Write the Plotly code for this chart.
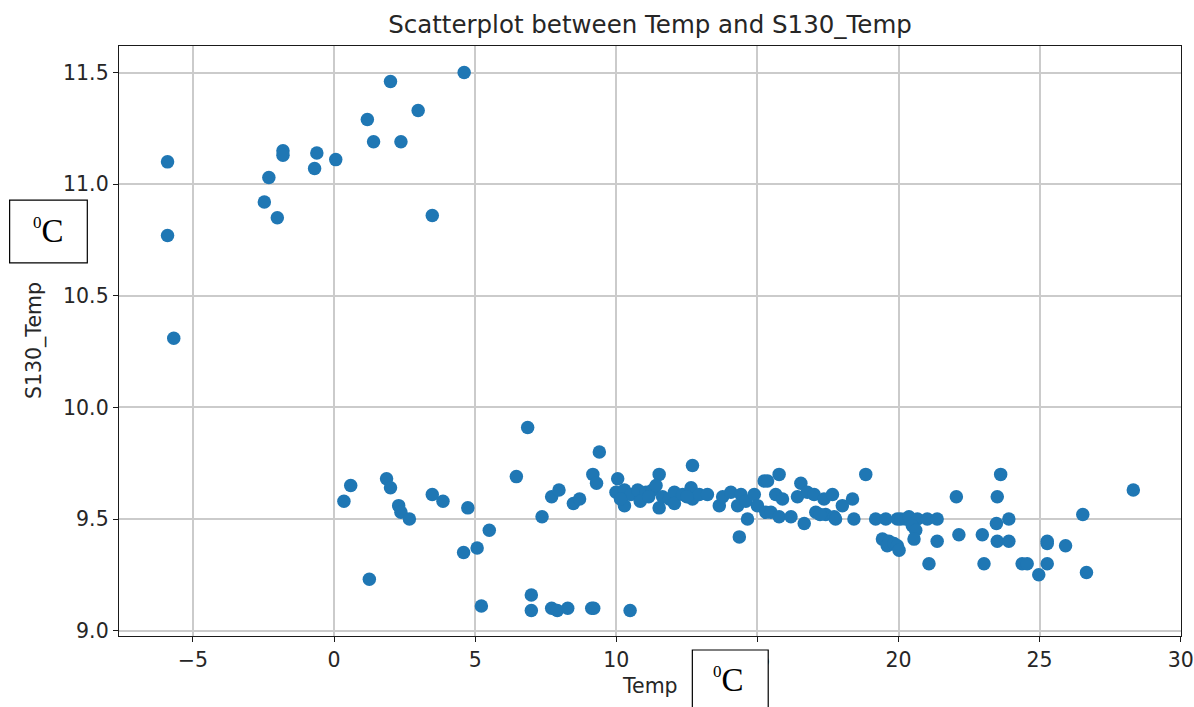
import plotly.graph_objects as go

# Outside air temperature (Temp) against sensor S130 reading (S130_Temp)
temp = [
    -5.90, -5.90, -5.68, -2.47, -2.31, -2.01, -1.81, -1.81, -0.69, -0.61,
    0.06, 1.18, 1.40, 2.00, 2.37, 2.98, 3.48, 4.61,
    0.35, 0.59, 1.25, 1.86, 2.00, 2.29, 2.37, 2.67, 3.48, 3.86,
    4.59, 4.74, 5.07, 5.22, 5.50, 6.46, 6.86, 6.99, 6.99, 7.37,
    7.71, 7.97, 7.71, 7.91, 8.28, 8.48, 8.70, 9.13, 9.20, 9.17,
    9.30, 9.40, 10.49,
    10.05, 9.99, 10.29, 10.29, 10.52, 10.76, 11.05, 11.29, 11.52, 11.41,
    11.52, 11.64, 11.88, 12.06, 12.06, 12.35, 12.65, 12.70, 12.70, 12.94,
    13.23, 13.65, 13.77, 14.06, 14.42, 14.30, 14.59, 14.65, 14.36, 14.89,
    15.00, 15.24, 15.30, 10.15, 10.85, 11.15, 12.50,
    15.36, 15.77, 15.65, 15.89, 15.48, 15.77, 16.19, 16.66, 16.54, 16.42,
    16.77, 17.01, 17.07, 17.36, 17.42, 17.66, 17.72, 18.01, 18.37, 18.42,
    18.84, 17.22, 17.77,
    19.19, 19.55, 19.96, 20.08, 20.25, 20.37, 20.67, 21.02, 21.37, 20.49,
    20.61, 19.43, 19.66, 19.60, 19.84, 19.96, 20.02, 20.55, 21.37, 21.08,
    22.05, 22.14, 22.97, 23.03, 23.50, 23.62, 23.47, 23.91, 23.50, 23.91,
    24.38, 24.56, 24.97, 25.27, 25.27, 25.27, 25.92, 26.53, 26.66, 28.32,
]
s130_temp = [
    11.10, 10.77, 10.31, 10.92, 11.03, 10.85, 11.15, 11.13, 11.07, 11.14,
    11.11, 11.29, 11.19, 11.46, 11.19, 11.33, 10.86, 11.50,
    9.58, 9.65, 9.23, 9.68, 9.64, 9.56, 9.53, 9.50, 9.61, 9.58,
    9.35, 9.55, 9.37, 9.11, 9.45, 9.69, 9.91, 9.16, 9.09, 9.51,
    9.60, 9.63, 9.10, 9.09, 9.10, 9.57, 9.59, 9.10, 9.10, 9.70,
    9.66, 9.80, 9.09,
    9.68, 9.62, 9.63, 9.56, 9.61, 9.63, 9.62, 9.63, 9.70, 9.65,
    9.55, 9.60, 9.59, 9.62, 9.57, 9.61, 9.64, 9.74, 9.59, 9.61,
    9.61, 9.56, 9.60, 9.62, 9.61, 9.56, 9.58, 9.50, 9.42, 9.61,
    9.56, 9.67, 9.53, 9.59, 9.58, 9.60, 9.60,
    9.67, 9.70, 9.61, 9.59, 9.53, 9.51, 9.51, 9.48, 9.66, 9.60,
    9.62, 9.61, 9.53, 9.59, 9.52, 9.61, 9.51, 9.56, 9.59, 9.50,
    9.70, 9.52, 9.50,
    9.50, 9.50, 9.50, 9.50, 9.50, 9.51, 9.50, 9.50, 9.50, 9.47,
    9.45, 9.41, 9.40, 9.38, 9.39, 9.38, 9.36, 9.41, 9.40, 9.30,
    9.60, 9.43, 9.43, 9.30, 9.60, 9.70, 9.48, 9.50, 9.40, 9.40,
    9.30, 9.30, 9.25, 9.40, 9.39, 9.30, 9.38, 9.52, 9.26, 9.63,
]

x_ticks = [-5, 0, 5, 10, 15, 20, 25, 30]
y_ticks = [9.0, 9.5, 10.0, 10.5, 11.0, 11.5]
y_tick_text = ["9.0", "9.5", "10.0", "10.5", "11.0", "11.5"]

W, H = 1194, 707
L, R, T, B = 119, 12.7, 45.7, 71
PW, PH = W - L - R, H - T - B


def px(x):
    return (x - L) / PW


def py(y):
    return (H - B - y) / PH


TICK_FONT = dict(family="DejaVu Sans", size=20.5, color="#262626")
UNIT_TEXT = '<sup><span style="font-size:17px">0</span></sup>C'
UNIT_FONT = dict(family="Liberation Serif", size=33, color="black")

fig = go.Figure(
    go.Scatter(
        x=temp,
        y=s130_temp,
        mode="markers",
        marker=dict(color="#1f77b4", size=13.5, line=dict(width=0)),
        hoverinfo="x+y",
    )
)

axis_common = dict(
    showline=True,
    linecolor="#1a1a1a",
    linewidth=1.4,
    mirror=True,
    showgrid=True,
    gridcolor="#cbcbcb",
    gridwidth=1.6,
    zeroline=False,
    ticks="outside",
    ticklen=5,
    tickwidth=1.2,
    tickcolor="#1a1a1a",
    tickfont=TICK_FONT,
)

fig.update_xaxes(
    range=[-7.62, 30.01],
    tickvals=x_ticks,
    ticktext=[str(v).replace("-", "\u2212") for v in x_ticks],
    **axis_common,
)
fig.update_yaxes(
    range=[8.976, 11.619],
    tickvals=y_ticks,
    ticktext=y_tick_text,
    **axis_common,
)

fig.update_layout(
    width=W,
    height=H,
    margin=dict(l=L, r=R, t=T, b=B, autoexpand=False),
    paper_bgcolor="white",
    plot_bgcolor="white",
    showlegend=False,
    title=dict(
        text="Scatterplot between Temp and S130_Temp",
        font=dict(family="DejaVu Sans", size=24.5, color="#262626"),
        x=0.5,
        xref="paper",
        xanchor="center",
        y=1 - 24 / H,
        yref="container",
        yanchor="middle",
    ),
    annotations=[
        dict(
            text="Temp", x=0.5, y=py(686), xref="paper", yref="paper",
            showarrow=False, xanchor="center", yanchor="middle",
            font=TICK_FONT,
        ),
        dict(
            text="S130_Temp", x=px(34), y=0.5, xref="paper", yref="paper",
            showarrow=False, xanchor="center", yanchor="middle", textangle=-90,
            font=TICK_FONT,
        ),
        dict(
            text=UNIT_TEXT, x=px(48.5), y=py(231), xref="paper", yref="paper",
            showarrow=False, xanchor="center", yanchor="middle",
            font=UNIT_FONT,
        ),
        dict(
            text=UNIT_TEXT, x=px(729), y=py(680), xref="paper", yref="paper",
            showarrow=False, xanchor="center", yanchor="middle",
            font=UNIT_FONT,
        ),
    ],
    shapes=[
        dict(
            type="rect", xref="paper", yref="paper", layer="above",
            x0=px(9.6), x1=px(87.3), y0=py(262.7), y1=py(200),
            line=dict(color="black", width=1.2), fillcolor="rgba(255,255,255,0)",
        ),
        dict(
            type="rect", xref="paper", yref="paper", layer="above",
            x0=px(692.5), x1=px(768.4), y0=py(712), y1=py(650),
            line=dict(color="black", width=1.2), fillcolor="white",
        ),
    ],
)

fig.write_html("out.html")
